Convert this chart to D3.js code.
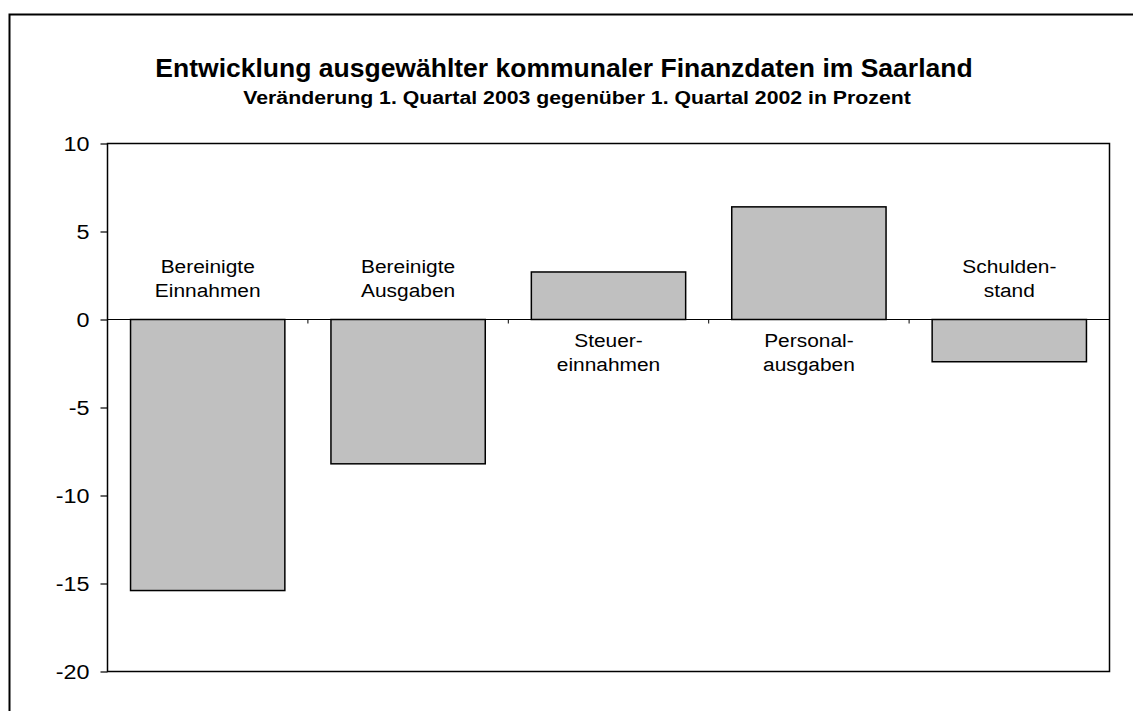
<!DOCTYPE html>
<html>
<head>
<meta charset="utf-8">
<script src="https://cdn.jsdelivr.net/npm/d3@7"></script>
<style>
  body { margin: 0; background: #fff; }
  svg { display: block; font-family: "Liberation Sans", Arial, sans-serif; }
</style>
</head>
<body>
<svg width="1133" height="711"></svg>
<script>
// data
const categories = [
  ["Bereinigte", "Einnahmen"],
  ["Bereinigte", "Ausgaben"],
  ["Steuer-", "einnahmen"],
  ["Personal-", "ausgaben"],
  ["Schulden-", "stand"]
];
const values = [-15.4, -8.2, 2.7, 6.4, -2.4];
const yTicks = [10, 5, 0, -5, -10, -15, -20];
const title = "Entwicklung ausgewählter kommunaler Finanzdaten im Saarland";
const subtitle = "Veränderung 1. Quartal 2003 gegenüber 1. Quartal 2002 in Prozent";

const svg = d3.select("svg");
const area = { left: 107.5, right: 1109.5, top: 143.5, bottom: 671.5 };

// outer frame (runs off the picture at right and bottom)
svg.append("rect")
  .attr("x", 9.5).attr("y", 14.5)
  .attr("width", 1140).attr("height", 720)
  .attr("fill", "none").attr("stroke", "#000").attr("stroke-width", 2);

svg.append("text")
  .attr("x", 564).attr("y", 77)
  .attr("text-anchor", "middle")
  .style("font-size", "26.5px").style("font-weight", "bold")
  .text(title);
// the original text is a bit wider than Arial, so stretch it
svg.append("text")
  .attr("transform", "translate(577, 104) scale(1.15, 1)")
  .attr("text-anchor", "middle")
  .style("font-size", "18.5px").style("font-weight", "bold")
  .text(subtitle);

const idx = d3.range(values.length);
const scX = d3.scaleBand().domain(idx).range([area.left, area.right]);
const scY = d3.scaleLinear().domain([-20, 10]).range([area.bottom, area.top]);
const barW = scX.bandwidth() * 0.77;

// plot box
svg.append("rect")
  .attr("x", area.left).attr("y", area.top)
  .attr("width", area.right - area.left).attr("height", area.bottom - area.top)
  .attr("fill", "none").attr("stroke", "#000").attr("stroke-width", 1.5);

// y axis
const axisY = d3.axisLeft(scY).tickValues(yTicks).tickSize(7).tickFormat(d => String(d));
const gY = svg.append("g")
  .attr("transform", `translate(${area.left}, 0)`)
  .call(axisY);
gY.select(".domain").remove();
gY.selectAll("line").attr("stroke", "#000").attr("stroke-width", 1.2);
gY.selectAll("text")
  .attr("x", -18 / 1.14)
  .attr("transform", "scale(1.14, 1)")
  .style("font-size", "20.5px")
  .style("font-family", "'Liberation Sans', Arial, sans-serif")
  .attr("fill", "#000");

// bars
svg.selectAll(".bar")
  .data(idx)
  .enter()
  .append("rect")
  .attr("x", i => scX(i) + (scX.bandwidth() - barW) / 2)
  .attr("y", i => scY(Math.max(0, values[i])))
  .attr("width", barW)
  .attr("height", i => Math.abs(scY(values[i]) - scY(0)))
  .attr("fill", "#c0c0c0")
  .attr("stroke", "#000")
  .attr("stroke-width", 1.5);

// zero line with category ticks
const y0 = scY(0);
svg.append("line")
  .attr("x1", area.left).attr("x2", area.right)
  .attr("y1", y0).attr("y2", y0)
  .attr("stroke", "#000").attr("stroke-width", 1.2);
svg.selectAll(".xtick")
  .data(d3.range(1, values.length))
  .enter()
  .append("line")
  .attr("x1", i => scX(i)).attr("x2", i => scX(i))
  .attr("y1", y0).attr("y2", y0 + 4)
  .attr("stroke", "#000").attr("stroke-width", 1);

// category labels: above zero for negative bars, below for positive
const labels = svg.selectAll(".lab")
  .data(idx)
  .enter()
  .append("text")
  .attr("text-anchor", "middle")
  .attr("transform", i => {
    const cx = scX(i) + scX.bandwidth() / 2;
    const base = values[i] < 0 ? y0 - 46.5 : y0 + 27.5;
    return `translate(${cx}, ${base}) scale(1.1, 1)`;
  })
  .style("font-size", "19px")
  .attr("fill", "#000");
labels.each(function(i) {
  const t = d3.select(this);
  categories[i].forEach((line, k) => {
    t.append("tspan").attr("x", 0).attr("y", k * 24.5).text(line);
  });
});
</script>
</body>
</html>
